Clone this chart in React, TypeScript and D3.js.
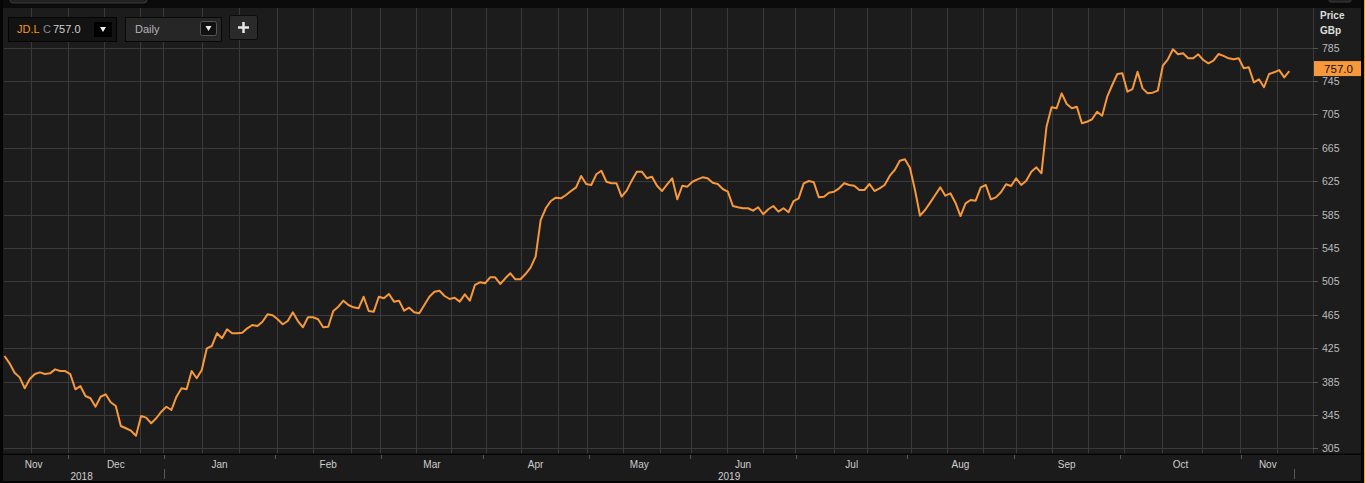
import React from "react";
import * as d3 from "d3";

// Daily close, JD.L (GBp), mid-Nov 2018 .. mid-Nov 2019 (one value per trading day)
const closes: number[] = [
  415.6, 406.8, 395.6, 390, 376.9, 388, 394, 396, 394, 394.8,
  399.6, 397.6, 397.6, 394, 375.7, 379.6, 367.7, 365, 354.9, 366.8,
  369.7, 360.1, 355.7, 331.7, 329, 326.1, 320.1, 343.7, 341.7, 335,
  341, 348.9, 354.8, 350.9, 366.8, 376.9, 375.7, 397.6, 388.9, 398.8,
  424.8, 427.6, 442.8, 436.8, 447.6, 442.8, 442.8, 443.5, 448.8, 452.7,
  451.5, 456.7, 465.5, 464.4, 459.6, 453.6, 457.5, 468, 457.5, 450,
  462, 462, 459.6, 450, 450.7, 469.5, 474.7, 481.9, 476.7, 473.9,
  472.7, 486.6, 469.5, 468.7, 486.6, 484.7, 489.9, 480.7, 481.9, 469.9,
  473.5, 468, 466.8, 476.7, 486.6, 492.6, 493.8, 487.5, 483.9, 485.4,
  480.7, 489.5, 481.9, 500.7, 503.9, 502.7, 509.9, 509.9, 501.9, 508.7,
  514.7, 507.5, 507.5, 513.8, 521.4, 534.6, 578.5, 592.6, 601.3, 605.3,
  604.5, 608.5, 613.3, 617.7, 631.3, 621.7, 620.5, 633.3, 637.6, 624.4,
  622.5, 622.5, 606.5, 613.7, 625.7, 636.4, 636.4, 628.5, 630.4, 619.6,
  613.3, 621.3, 628.5, 603.3, 619.6, 618.5, 624.4, 627.3, 629.7, 628.5,
  623.2, 621.7, 615.7, 612.5, 595.3, 593.8, 592.6, 592.6, 589.7, 593.8,
  585.4, 591.4, 595.3, 588.5, 592.6, 587.8, 601.3, 604.5, 622.5, 625.3,
  623.7, 605.7, 606.5, 611.3, 612.5, 616.5, 622.5, 620.5, 619.6, 614.5,
  614.5, 621.7, 613.3, 616.5, 620.5, 631.3, 638.5, 649.6, 651.3, 641.2,
  614.5, 583.7, 590.5, 599.3, 608.5, 617.7, 607.7, 610.5, 599.3, 583.3,
  598.4, 602.5, 601.7, 617.7, 620.5, 603.3, 605.7, 611.7, 621.3, 619.3,
  628.5, 620.5, 625.6, 636.4, 641.7, 634.5, 690.3, 713.6, 712.4, 730.3,
  717.5, 712.4, 714.3, 694.4, 696.3, 699.2, 708.3, 703.5, 726.3, 740.3,
  753.5, 754.3, 732.3, 735.5, 756.2, 736.3, 730.3, 731.1, 733.5, 763.4,
  771.1, 783.1, 777.1, 778.3, 772.3, 772.3, 777.1, 770.3, 766.3, 769.4,
  777.4, 775.2, 772.3, 771.1, 772.3, 760.3, 761.5, 743.5, 747.1, 737.6,
  753.5, 755.5, 758.2, 749.5, 757.0,
];

const monthLabels: string[] = ["Nov", "Dec", "Jan", "Feb", "Mar", "Apr", "May", "Jun", "Jul", "Aug", "Sep", "Oct", "Nov"];
const monthStarts: number[] = [0, 13, 32, 54, 75, 95, 116, 136, 157, 179, 200, 221, 245];
const yearLabels: string[] = ["2018", "2019"];
const yearStarts: number[] = [0, 32];
const priceTicks: number[] = [305, 345, 385, 425, 465, 505, 545, 585, 625, 665, 705, 745, 785];
const gridDays: number[] = [
  5.2, 12.5, 19.6, 26.7, 31.4, 39.1, 46.4, 53.9, 61, 68.5, 74.2, 81.3, 88.3, 95.1,
  102.2, 109.4, 115.1, 122.2, 129.5, 135.7, 142.8, 149.9, 156.2, 163.9, 170.5,
  179.2, 186.4, 193.5, 199.9, 207, 214.2, 221.3, 228.9, 236.7, 244.3, 251.5,
];
const ric = "JD.L";
const lastClose = 757.0;
const interval = "Daily";

const W = 1365;
const H = 483;
const PLOT_RIGHT = 1313;
const PLOT_TOP = 8;
const PLOT_BOTTOM = 454;
const FONT = "'Liberation Sans', Arial, sans-serif";
const ORANGE = "#f7993a";

export default function App() {
  const N = closes.length;
  const x = d3.scaleLinear().domain([0, N - 1]).range([4.5, 1289.3]);
  const y = d3.scaleLinear().domain([305, 785]).range([448.3, 47.7]);
  const line = d3
    .line<number>()
    .x((_, i) => x(i))
    .y((d) => y(d));

  const monthBounds = monthStarts.map((k, i) => {
    const a = i === 0 ? x(-1) : x(k - 0.5);
    const b = i + 1 < monthStarts.length ? x(monthStarts[i + 1] - 0.5) : x(N);
    return { label: monthLabels[i], a, b, tick: i === 0 ? null : x(k - 0.5) };
  });
  const yearBounds = yearStarts.map((k, i) => {
    const a = i === 0 ? x(-1) : x(k - 0.5);
    const b = i + 1 < yearStarts.length ? x(yearStarts[i + 1] - 0.5) : x(N);
    return { label: yearLabels[i], a, b };
  });

  const yLast = y(lastClose);

  return (
    <div style={{ position: "absolute", left: 0, top: 0 }}>
      <svg width={W} height={H} style={{ display: "block", fontFamily: FONT }}>
        <rect x={0} y={0} width={W} height={H} fill="#1c1c1c" />
        {/* top strip */}
        <rect x={0} y={0} width={W} height={PLOT_TOP} fill="#0b0b0b" />
        <rect x={10} y={-4} width={137} height={7} rx={3} fill="#222" stroke="#3a3a3a" />
        <rect x={1329} y={-4} width={22} height={6} rx={2} fill="#222" stroke="#3a3a3a" />

        {/* grid */}
        <g stroke="#3a3a3a" strokeWidth={1}>
          {priceTicks.map((t) => (
            <line key={"h" + t} x1={4} x2={PLOT_RIGHT} y1={Math.round(y(t)) + 0.5} y2={Math.round(y(t)) + 0.5} />
          ))}
          {gridDays.map((g) => (
            <line key={"v" + g} x1={Math.round(x(g)) + 0.5} x2={Math.round(x(g)) + 0.5} y1={PLOT_TOP} y2={PLOT_BOTTOM} />
          ))}
          <line x1={PLOT_RIGHT + 0.5} x2={PLOT_RIGHT + 0.5} y1={PLOT_TOP} y2={PLOT_BOTTOM} />
        </g>

        {/* price line */}
        <path d={line(closes) || ""} fill="none" stroke={ORANGE} strokeWidth={2} strokeLinejoin="round" />

        {/* right axis */}
        <g fontSize={10.5} fill="#bdbdbd">
          {priceTicks.map((t) => (
            <g key={"t" + t}>
              <line x1={PLOT_RIGHT} x2={PLOT_RIGHT + 5} y1={Math.round(y(t)) + 0.5} y2={Math.round(y(t)) + 0.5} stroke="#555" />
              <text x={1322} y={y(t) + 4}>{t}</text>
            </g>
          ))}
        </g>
        <text x={1320} y={19} fontSize={10} fontWeight="bold" fill="#dcdcdc">Price</text>
        <text x={1320} y={34} fontSize={10} fontWeight="bold" fill="#dcdcdc">GBp</text>
        <rect x={1314} y={yLast - 10} width={49} height={15} fill={ORANGE} />
        <text x={1338.5} y={yLast + 1.5} fontSize={11.5} fill="#111" textAnchor="middle">{lastClose.toFixed(1)}</text>

        {/* bottom axis */}
        <rect x={0} y={PLOT_BOTTOM} width={W} height={H - PLOT_BOTTOM} fill="#1b1b1b" />
        <rect x={0} y={PLOT_BOTTOM - 0.5} width={W} height={1.5} fill="#050505" />
        <rect x={0} y={481} width={W} height={2} fill="#050505" />
        {monthBounds.map((m, i) => (
          <g key={"m" + i}>
            {m.tick !== null && (
              <line x1={Math.round(m.tick) + 0.5} x2={Math.round(m.tick) + 0.5} y1={455} y2={459} stroke="#555" />
            )}
            <text x={(m.a + m.b) / 2} y={468} fontSize={10} fill="#cfcfcf" textAnchor="middle">{m.label}</text>
          </g>
        ))}
        {yearBounds.map((yb, i) => (
          <g key={"y" + i}>
            <text x={(yb.a + yb.b) / 2} y={480} fontSize={10} fill="#cfcfcf" textAnchor="middle">{yb.label}</text>
            <line x1={Math.round(yb.b) + 0.5} x2={Math.round(yb.b) + 0.5} y1={469} y2={479} stroke="#555" />
          </g>
        ))}

        {/* frame */}
        <rect x={0} y={0} width={3} height={H} fill="#050505" />
        <rect x={1361} y={0} width={3} height={H} fill="#050505" />
        <rect x={1364} y={0} width={1} height={H} fill={ORANGE} />

        {/* controls */}
        <rect x={8.5} y={17.5} width={108} height={24} fill="#131313" stroke="#050505" />
        <text x={17} y={33} fontSize={11} fill="#f7941d">{ric}</text>
        <text x={43} y={33} fontSize={11} fill="#8a8a8a">C</text>
        <text x={53} y={33} fontSize={11} fill="#d0d0d0">{lastClose.toFixed(1)}</text>
        <rect x={94} y={22} width={18} height={15} fill="#000" />
        <path d="M100,27 L106,27 L103,32 Z" fill="#eee" />

        <rect x={125.5} y={17.5} width={96} height={24} fill="#262626" stroke="#080808" />
        <text x={135} y={33} fontSize={11} fill="#b5b5b5">{interval}</text>
        <rect x={200.5} y={21.5} width={16} height={14} rx={2} fill="#111" stroke="#555" />
        <path d="M205.5,26 L211.5,26 L208.5,31 Z" fill="#eee" />

        <rect x={229.5} y={15.5} width={28} height={24} rx={2} fill="#2a2a2a" stroke="#0c0c0c" />
        <path d="M243.5,22 L243.5,33 M238,27.5 L249,27.5" stroke="#e6e6e6" strokeWidth={2.5} />
      </svg>
    </div>
  );
}
